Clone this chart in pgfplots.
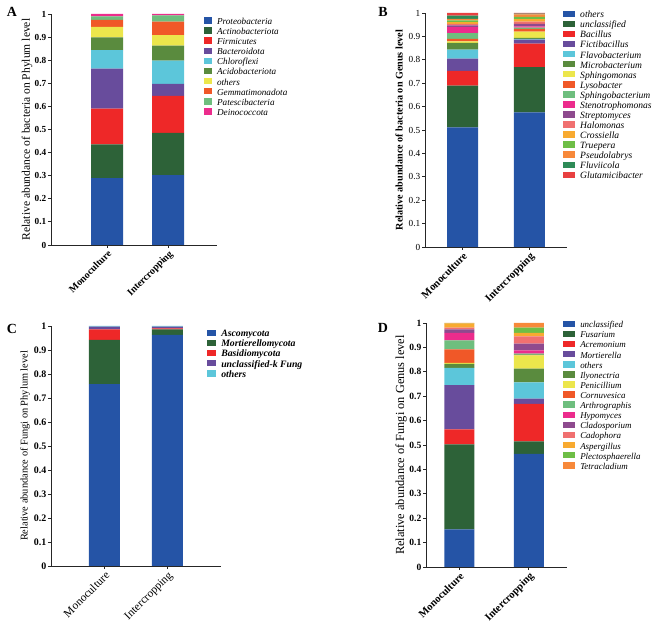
\documentclass[border=0pt]{standalone}
\usepackage{fontspec}
\setmainfont{Liberation Serif}
\usepackage{pgfplots}
\usepackage{pgfplotstable}
\pgfplotsset{compat=1.18}

\definecolor{cBlue}{HTML}{2554A6}
\definecolor{cDkGreen}{HTML}{2D6238}
\definecolor{cRed}{HTML}{EE2828}
\definecolor{cPurple}{HTML}{684C9C}
\definecolor{cCyan}{HTML}{5CC6DA}
\definecolor{cGreen}{HTML}{5A8B3E}
\definecolor{cYellow}{HTML}{ECE64C}
\definecolor{cOrange}{HTML}{F05828}
\definecolor{cLtGreen}{HTML}{6EBE7E}
\definecolor{cPink}{HTML}{EC2C8C}
\definecolor{cMauve}{HTML}{8E4A8E}
\definecolor{cSalmon}{HTML}{F07070}
\definecolor{cGold}{HTML}{F8AA30}
\definecolor{cLime}{HTML}{6EBE46}
\definecolor{cLtOrange}{HTML}{F7893A}
\definecolor{cSeaGreen}{HTML}{2E8B57}
\definecolor{cRedTwo}{HTML}{E84040}

\pgfplotstableread{
x Pro Act Fir Bac Chl Aci oth Gem Pat Dei
1 0.290 0.146 0.154 0.173 0.081 0.055 0.045 0.031 0.015 0.010
2 0.302 0.183 0.161 0.051 0.101 0.065 0.046 0.058 0.027 0.006
}\dataA

\pgfplotstableread{
x oth uncl Bac Fic Fla Mic Sph Lys Spb Ste Str Hal Cro Tru Pse Flu Glu
1 0.511 0.179 0.063 0.052 0.038 0.029 0.007 0.010 0.025 0.026 0.007 0.007 0.007 0.007 0.007 0.014 0.011
2 0.575 0.194 0.100 0.017 0.003 0.005 0.026 0.012 0.005 0.006 0.011 0.009 0.011 0.009 0.011 0.003 0.003
}\dataB

\pgfplotstableread{
x Asc Mor Bas Unc oth
1 0.758 0.184 0.044 0.011 0.003
2 0.963 0.023 0.004 0.007 0.003
}\dataC

\pgfplotstableread{
x uncl Fus Acr Mor oth Ily Pen Cor Art Hyp Cla Cad Asp Ple Tet
1 0.154 0.349 0.061 0.181 0.071 0.016 0.005 0.055 0.037 0.031 0.014 0.007 0.017 0.001 0.001
2 0.464 0.051 0.154 0.021 0.067 0.056 0.054 0.002 0.005 0.014 0.027 0.030 0.015 0.021 0.019
}\dataD

\pgfplotsset{
  panel/.style={
    scale only axis,
    anchor=south west,
    axis x line*=bottom,
    axis y line*=left,
    axis line style={line width=0.8bp, black!85},
    ymin=0, ymax=1,
    ytick={0,0.1,0.2,0.3,0.4,0.5,0.6,0.7,0.8,0.9,1},
    yticklabels={0,0.1,0.2,0.3,0.4,0.5,0.6,0.7,0.8,0.9,1},
    xtick={1,2},
    xticklabels={Monoculture,Intercropping},
    tick align=outside,
    major tick length=3bp,
    tick style={line width=0.8bp, black!85},
    xticklabel style={rotate=45, anchor=north east, inner sep=1bp},
    yticklabel style={inner sep=1.5bp},
    ybar stacked,
    every axis plot/.append style={draw=none,
      legend image code/.code={\fill[##1] (0bp,-1bp) rectangle (\sqw,5.5bp); \path (\sqw+5bp,0bp);}},
    legend cell align=left,
    legend style={draw=none, fill=none, inner sep=0pt, anchor=north west, row sep=0pt,
      nodes={inner sep=0pt, text height=6.3bp, text depth=2.9bp}},
    /pgf/number format/assume math mode=true,
    ylabel style={anchor=center},
  }
}
\newcommand{\sqw}{8bp}

\begin{document}
\begin{tikzpicture}
\useasboundingbox (0,0) rectangle (669bp,627bp);

% ---------------- A ----------------
\renewcommand{\sqw}{8bp}
\begin{axis}[panel,
  at={(51bp,382bp)}, width=166bp, height=231bp,
  xmin=0.082, xmax=2.80, bar width=32bp,
  ticklabel style={font=\fontsize{9.3}{9.3}\selectfont\bfseries},
  xticklabel style={font=\fontsize{10}{10}\selectfont\bfseries},
  ylabel={Relative abundance of bacteria on Phylum level},
  ylabel style={font=\fontsize{11.6}{11.6}\selectfont, at={(axis description cs:-0.145,0.5)}},
  legend style={at={(axis description cs:0.921,0.9866)}, font=\fontsize{9.2}{9.2}\selectfont\itshape},
]
\addplot[fill=cBlue] table[x=x,y=Pro]{\dataA}; \addlegendentry{Proteobacteria}
\addplot[fill=cDkGreen] table[x=x,y=Act]{\dataA}; \addlegendentry{Actinobacteriota}
\addplot[fill=cRed] table[x=x,y=Fir]{\dataA}; \addlegendentry{Firmicutes}
\addplot[fill=cPurple] table[x=x,y=Bac]{\dataA}; \addlegendentry{Bacteroidota}
\addplot[fill=cCyan] table[x=x,y=Chl]{\dataA}; \addlegendentry{Chloroflexi}
\addplot[fill=cGreen] table[x=x,y=Aci]{\dataA}; \addlegendentry{Acidobacteriota}
\addplot[fill=cYellow] table[x=x,y=oth]{\dataA}; \addlegendentry{others}
\addplot[fill=cOrange] table[x=x,y=Gem]{\dataA}; \addlegendentry{Gemmatimonadota}
\addplot[fill=cLtGreen] table[x=x,y=Pat]{\dataA}; \addlegendentry{Patescibacteria}
\addplot[fill=cPink] table[x=x,y=Dei]{\dataA}; \addlegendentry{Deinococcota}
\end{axis}

% ---------------- B ----------------
\renewcommand{\sqw}{12bp}
\begin{axis}[panel,
  at={(425bp,380bp)}, width=142bp, height=234bp,
  xmin=0.44, xmax=2.56, bar width=31bp,
  ticklabel style={font=\fontsize{9.3}{9.3}\selectfont},
  xticklabel style={font=\fontsize{10.8}{10.8}\selectfont\bfseries},
  ylabel={Relative abundance of bacteria on Genus level},
  ylabel style={font=\fontsize{10.2}{10.2}\selectfont\bfseries, at={(axis description cs:-0.183,0.5)}},
  legend style={at={(axis description cs:0.972,1.011)}, font=\fontsize{9.6}{9.6}\selectfont\itshape,
    nodes={text height=6.2bp, text depth=2.925bp}},
]
\addplot[fill=cBlue] table[x=x,y=oth]{\dataB}; \addlegendentry{others}
\addplot[fill=cDkGreen] table[x=x,y=uncl]{\dataB}; \addlegendentry{unclassified}
\addplot[fill=cRed] table[x=x,y=Bac]{\dataB}; \addlegendentry{Bacillus}
\addplot[fill=cPurple] table[x=x,y=Fic]{\dataB}; \addlegendentry{Fictibacillus}
\addplot[fill=cCyan] table[x=x,y=Fla]{\dataB}; \addlegendentry{Flavobacterium}
\addplot[fill=cGreen] table[x=x,y=Mic]{\dataB}; \addlegendentry{Microbacterium}
\addplot[fill=cYellow] table[x=x,y=Sph]{\dataB}; \addlegendentry{Sphingomonas}
\addplot[fill=cOrange] table[x=x,y=Lys]{\dataB}; \addlegendentry{Lysobacter}
\addplot[fill=cLtGreen] table[x=x,y=Spb]{\dataB}; \addlegendentry{Sphingobacterium}
\addplot[fill=cPink] table[x=x,y=Ste]{\dataB}; \addlegendentry{Stenotrophomonas}
\addplot[fill=cMauve] table[x=x,y=Str]{\dataB}; \addlegendentry{Streptomyces}
\addplot[fill=cSalmon] table[x=x,y=Hal]{\dataB}; \addlegendentry{Halomonas}
\addplot[fill=cGold] table[x=x,y=Cro]{\dataB}; \addlegendentry{Crossiella}
\addplot[fill=cLime] table[x=x,y=Tru]{\dataB}; \addlegendentry{Truepera}
\addplot[fill=cLtOrange] table[x=x,y=Pse]{\dataB}; \addlegendentry{Pseudolabrys}
\addplot[fill=cSeaGreen] table[x=x,y=Flu]{\dataB}; \addlegendentry{Fluviicola}
\addplot[fill=cRedTwo] table[x=x,y=Glu]{\dataB}; \addlegendentry{Glutamicibacter}
\end{axis}

% ---------------- C ----------------
\renewcommand{\sqw}{9bp}
\begin{axis}[panel,
  at={(51bp,61bp)}, width=170bp, height=240bp,
  xmin=0.151, xmax=2.85, bar width=31bp,
  ticklabel style={font=\fontsize{10}{10}\selectfont\bfseries},
  xticklabel style={font=\fontsize{11.5}{11.5}\selectfont},
  ylabel={Relative abundance of Fungi on Phylum level},
  ylabel style={font=\fontsize{10.4}{10.4}\selectfont, at={(axis description cs:-0.153,0.5)}},
  legend style={at={(axis description cs:0.918,0.986)}, font=\fontsize{9.8}{9.8}\selectfont\bfseries\itshape,
    nodes={text height=6.3bp, text depth=2.95bp}},
]
\addplot[fill=cBlue] table[x=x,y=Asc]{\dataC}; \addlegendentry{Ascomycota}
\addplot[fill=cDkGreen] table[x=x,y=Mor]{\dataC}; \addlegendentry{Mortierellomycota}
\addplot[fill=cRed] table[x=x,y=Bas]{\dataC}; \addlegendentry{Basidiomycota}
\addplot[fill=cPurple] table[x=x,y=Unc]{\dataC}; \addlegendentry{unclassified-k Fung}
\addplot[fill=cCyan] table[x=x,y=oth]{\dataC}; \addlegendentry{others}
\end{axis}

% ---------------- D ----------------
\renewcommand{\sqw}{12bp}
\begin{axis}[panel,
  at={(426bp,60bp)}, width=141bp, height=244bp,
  xmin=0.52, xmax=2.55, bar width=30bp,
  ticklabel style={font=\fontsize{9.6}{9.6}\selectfont\bfseries},
  xticklabel style={font=\fontsize{10.7}{10.7}\selectfont\bfseries},
  ylabel={Relative abundance of Fungi on Genus level},
  ylabel style={font=\fontsize{12.4}{12.4}\selectfont, at={(axis description cs:-0.177,0.5)}},
  legend style={at={(axis description cs:0.972,1.0107)}, font=\fontsize{9}{9}\selectfont\itshape,
    nodes={text height=6.3bp, text depth=2.91bp}},
]
\addplot[fill=cBlue] table[x=x,y=uncl]{\dataD}; \addlegendentry{unclassified}
\addplot[fill=cDkGreen] table[x=x,y=Fus]{\dataD}; \addlegendentry{Fusarium}
\addplot[fill=cRed] table[x=x,y=Acr]{\dataD}; \addlegendentry{Acremonium}
\addplot[fill=cPurple] table[x=x,y=Mor]{\dataD}; \addlegendentry{Mortierella}
\addplot[fill=cCyan] table[x=x,y=oth]{\dataD}; \addlegendentry{others}
\addplot[fill=cGreen] table[x=x,y=Ily]{\dataD}; \addlegendentry{Ilyonectria}
\addplot[fill=cYellow] table[x=x,y=Pen]{\dataD}; \addlegendentry{Penicillium}
\addplot[fill=cOrange] table[x=x,y=Cor]{\dataD}; \addlegendentry{Cornuvesica}
\addplot[fill=cLtGreen] table[x=x,y=Art]{\dataD}; \addlegendentry{Arthrographis}
\addplot[fill=cPink] table[x=x,y=Hyp]{\dataD}; \addlegendentry{Hypomyces}
\addplot[fill=cMauve] table[x=x,y=Cla]{\dataD}; \addlegendentry{Cladosporium}
\addplot[fill=cSalmon] table[x=x,y=Cad]{\dataD}; \addlegendentry{Cadophora}
\addplot[fill=cGold] table[x=x,y=Asp]{\dataD}; \addlegendentry{Aspergillus}
\addplot[fill=cLime] table[x=x,y=Ple]{\dataD}; \addlegendentry{Plectosphaerella}
\addplot[fill=cLtOrange] table[x=x,y=Tet]{\dataD}; \addlegendentry{Tetracladium}
\end{axis}

\node[font=\fontsize{14}{14}\selectfont\bfseries] at (12bp,615bp) {A};
\node[font=\fontsize{14}{14}\selectfont\bfseries] at (383bp,615bp) {B};
\node[font=\fontsize{14}{14}\selectfont\bfseries] at (12bp,298bp) {C};
\node[font=\fontsize{14}{14}\selectfont\bfseries] at (383bp,299bp) {D};
\end{tikzpicture}
\end{document}
